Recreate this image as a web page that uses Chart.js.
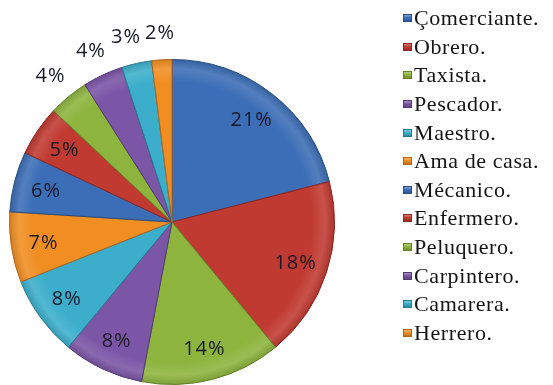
<!DOCTYPE html>
<html>
<head>
<meta charset="utf-8">
<script src="https://cdn.jsdelivr.net/npm/chart.js@4.4.0/dist/chart.umd.min.js"></script>
<style>
  html, body { margin: 0; padding: 0; background: #ffffff; }
  #wrap { position: relative; width: 553px; height: 385px; overflow: hidden; }
  #pie { position: absolute; left: 0; top: 0; }
  #legend {
    position: absolute; left: 403px; top: 4px; margin: 0; padding: 0; list-style: none;
    font-family: "Liberation Serif", "Times New Roman", serif; font-size: 22px; color: #141414;
    letter-spacing: 0.6px;
  }
  #legend li { height: 28.6px; display: flex; align-items: center; white-space: nowrap; }
  #legend .box { width: 9px; height: 8px; margin-right: 2px; flex: none; box-sizing: border-box; }
</style>
</head>
<body>
<div id="wrap">
  <canvas id="pie" width="553" height="385"></canvas>
  <ul id="legend"></ul>
</div>
<script>
// Occupations and their share of respondents (%)
const occupations = ['Çomerciante.', 'Obrero.', 'Taxista.', 'Pescador.', 'Maestro.', 'Ama de casa.',
                     'Mécanico.', 'Enfermero.', 'Peluquero.', 'Carpintero.', 'Camarera.', 'Herrero.'];
const shares = [21, 18, 14, 8, 8, 7, 6, 5, 4, 4, 3, 2];

// Office-style palette, repeated for the second round of slices
const palette = ['#3B6EB6', '#C03A31', '#8DB43D', '#7B55A6', '#3CAECB', '#F08E22'];
const edgePalette = ['#264C80', '#8A2621', '#62802A', '#533875', '#27798E', '#B0631A'];
const sliceColors = occupations.map((_, i) => palette[i % palette.length]);
const sliceEdges = occupations.map((_, i) => edgePalette[i % edgePalette.length]);

function shade(hex, amt) {
  const n = parseInt(hex.slice(1), 16);
  const r = (n >> 16) & 255, g = (n >> 8) & 255, b = n & 255;
  const f = c => Math.max(0, Math.min(255, Math.round(amt > 0 ? c + (255 - c) * amt : c * (1 + amt))));
  return `rgb(${f(r)},${f(g)},${f(b)})`;
}

// Soft bevel: flat body, light band and dark rim along the outer edge
function sliceFill(ctx) {
  const base = sliceColors[ctx.dataIndex];
  const chart = ctx.chart;
  const area = chart.chartArea;
  if (!area) return base;
  const cx = (area.left + area.right) / 2, cy = (area.top + area.bottom) / 2;
  const r = Math.min(area.right - area.left, area.bottom - area.top) / 2;
  const g = chart.ctx.createRadialGradient(cx, cy, 0, cx, cy, r);
  g.addColorStop(0, base);
  g.addColorStop(0.86, base);
  g.addColorStop(0.94, shade(base, 0.12));
  g.addColorStop(1, shade(base, -0.12));
  return g;
}

// Percentage labels: inside the larger slices, just outside the small ones.
// Outside labels are nudged sideways so neighbours do not collide.
const pctLabels = {
  id: 'pctLabels',
  afterDatasetsDraw(chart) {
    const { ctx } = chart;
    const meta = chart.getDatasetMeta(0);
    ctx.save();
    ctx.font = '20px "Open Sans", sans-serif';
    ctx.fillStyle = '#191926';
    ctx.textAlign = 'center';
    ctx.textBaseline = 'alphabetic';
    if ('letterSpacing' in ctx) ctx.letterSpacing = '1px';
    const capHalf = 7;
    const placed = [];
    for (let i = meta.data.length - 1; i >= 0; i--) {
      const p = meta.data[i].getProps(['x', 'y', 'startAngle', 'endAngle', 'outerRadius'], true);
      const mid = (p.startAngle + p.endAngle) / 2;
      const outside = shares[i] < 5;
      const d = outside ? p.outerRadius + 28 : p.outerRadius * 0.8;
      const text = shares[i] + '%';
      const w = ctx.measureText(text).width;
      let x = p.x + Math.cos(mid) * d;
      const y = p.y + Math.sin(mid) * d;
      if (outside) {
        placed.forEach(b => {
          if (Math.abs(b.y - y) < 16 && x + w / 2 + 4 > b.x - b.w / 2) {
            x = b.x - b.w / 2 - 4 - w / 2;
          }
        });
        placed.push({ x, y, w });
      }
      ctx.fillText(text, x, y + capHalf);
    }
    ctx.restore();
  }
};

const chart = new Chart(document.getElementById('pie'), {
  type: 'pie',
  data: {
    labels: occupations,
    datasets: [{
      data: shares,
      backgroundColor: sliceFill,
      borderColor: sliceEdges,
      borderWidth: 1
    }]
  },
  options: {
    responsive: false,
    animation: false,
    layout: { padding: { top: 59, bottom: 0, left: 9, right: 218 } },
    plugins: {
      legend: { display: false },
      tooltip: { enabled: false }
    }
  },
  plugins: [pctLabels]
});

// HTML legend: one swatch and name per slice
const legendEl = document.getElementById('legend');
chart.data.labels.forEach((name, i) => {
  const li = document.createElement('li');
  const box = document.createElement('span');
  box.className = 'box';
  const c = sliceColors[i];
  box.style.background = `linear-gradient(to bottom, ${shade(c, 0.35)} 0%, ${c} 45%, ${shade(c, -0.2)} 100%)`;
  box.style.border = `1px solid ${sliceEdges[i]}`;
  const txt = document.createElement('span');
  txt.textContent = name;
  li.appendChild(box);
  li.appendChild(txt);
  legendEl.appendChild(li);
});
</script>
</body>
</html>
